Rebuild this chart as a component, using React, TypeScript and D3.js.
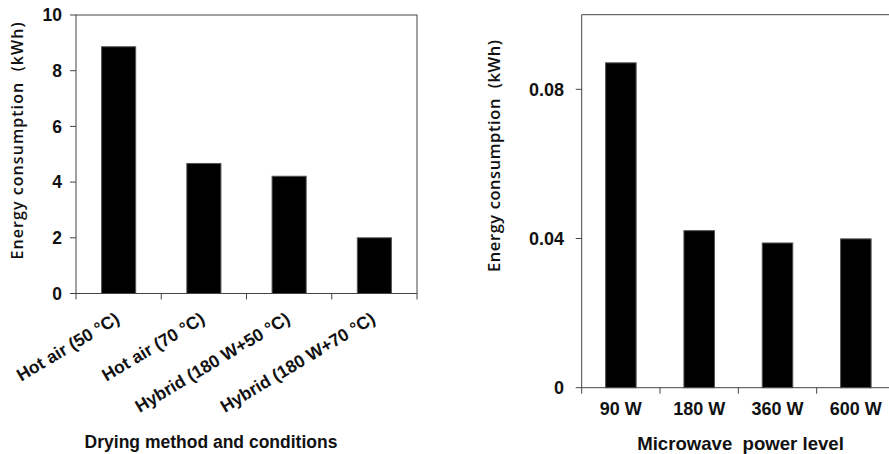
import React from "react";
import * as d3 from "d3";

const leftCategories = ["Hot air (50 °C)", "Hot air (70 °C)", "Hybrid (180 W+50 °C)", "Hybrid (180 W+70 °C)"];
const leftValues = [8.86, 4.67, 4.21, 2.0];
const leftTicks = [0, 2, 4, 6, 8, 10];

const rightCategories = ["90 W", "180 W", "360 W", "600 W"];
const rightValues = [0.0871, 0.0421, 0.0388, 0.0399];
const rightTicks = [0, 0.04, 0.08];

const FONT = "'Liberation Sans', Arial, Helvetica, sans-serif";
const TITLE_FONT = "'Open Sans', 'Noto Sans', sans-serif";
const AXIS = "#444";

export default function App() {
  // Left panel
  const L = { x0: 76, x1: 417, top: 15, bottom: 293.5 };
  const lx = d3.scaleBand<string>().domain(leftCategories).range([L.x0, L.x1]).padding(0);
  const ly = d3.scaleLinear().domain([0, 10]).range([L.bottom, L.top]);
  const lbw = lx.bandwidth() * 0.4;

  // Right panel
  const R = { x0: 581.7, x1: 895, top: 14.7, bottom: 387.7 };
  const rx = d3.scaleBand<string>().domain(rightCategories).range([R.x0, R.x1]).padding(0);
  const ry = d3.scaleLinear().domain([0, 0.1]).range([R.bottom, R.top]);
  const rbw = rx.bandwidth() * 0.39;

  const lBoundaries = leftCategories.map((c) => lx(c)!).concat([L.x1]);
  const rBoundaries = rightCategories.map((c) => rx(c)!);

  return (
    <svg width={889} height={454} style={{ position: "absolute", left: 0, top: 0, background: "#fff" }} fontFamily={FONT}>
      <rect x={0} y={0} width={889} height={454} fill="#fff" />
      {/* LEFT */}
      <g>
        {leftCategories.map((c, i) => (
          <rect key={c} x={lx(c)! + (lx.bandwidth() - lbw) / 2} y={ly(leftValues[i])} width={lbw}
            height={ly(0) - ly(leftValues[i])} fill="#000" stroke="#555" strokeWidth={1} />
        ))}
        <rect x={L.x0} y={L.top} width={L.x1 - L.x0} height={L.bottom - L.top} fill="none" stroke={AXIS} strokeWidth={1} />
        {leftTicks.map((t) => (
          <g key={t}>
            <line x1={L.x0 - 6} x2={L.x0} y1={ly(t)} y2={ly(t)} stroke={AXIS} />
            <text x={62} y={ly(t)} dy="0.36em" textAnchor="end" fontSize={17.5} fontWeight="bold" fill="#111">{t}</text>
          </g>
        ))}
        {lBoundaries.map((b, i) => (
          <line key={i} x1={b} x2={b} y1={L.bottom} y2={L.bottom + 6} stroke={AXIS} />
        ))}
        {leftCategories.map((c) => {
          const cx = lx(c)! + lx.bandwidth() / 2 + 2;
          return (
            <text key={c} transform={`translate(${cx},322) rotate(-31)`} textAnchor="end" fontSize={17.5}
              fontWeight="bold" fill="#111">{c}</text>
          );
        })}
        <text x={211} y={448} textAnchor="middle" fontSize={17.5} fontWeight="bold" fill="#111">Drying method and conditions</text>
        <text transform={`translate(23,141) rotate(-90)`} textAnchor="middle" fontSize={16} fontWeight={600}
          fontFamily={TITLE_FONT} fill="#111" textLength={237} lengthAdjust="spacing"
          style={{ whiteSpace: "pre" }}>{"Energy consumption  (kWh)"}</text>
      </g>
      {/* RIGHT */}
      <g>
        {rightCategories.map((c, i) => (
          <rect key={c} x={rx(c)! + (rx.bandwidth() - rbw) / 2} y={ry(rightValues[i])} width={rbw}
            height={ry(0) - ry(rightValues[i])} fill="#000" stroke="#555" strokeWidth={1} />
        ))}
        <line x1={R.x0} x2={R.x0} y1={R.top} y2={R.bottom} stroke={AXIS} />
        <line x1={R.x0} x2={R.x1} y1={R.top} y2={R.top} stroke={AXIS} />
        <line x1={R.x0} x2={R.x1} y1={R.bottom} y2={R.bottom} stroke={AXIS} />
        {rightTicks.map((t) => (
          <g key={t}>
            <line x1={R.x0 - 6} x2={R.x0} y1={ry(t)} y2={ry(t)} stroke={AXIS} />
            <text x={564} y={ry(t)} dy="0.36em" textAnchor="end" fontSize={18} fontWeight="bold" fill="#111">{t === 0 ? "0" : String(t)}</text>
          </g>
        ))}
        {rBoundaries.map((b, i) => (
          <line key={i} x1={b} x2={b} y1={R.bottom} y2={R.bottom + 6} stroke={AXIS} />
        ))}
        {rightCategories.map((c) => (
          <text key={c} x={rx(c)! + rx.bandwidth() / 2} y={415} textAnchor="middle" fontSize={18} fontWeight="bold" fill="#111">{c}</text>
        ))}
        <text x={740.5} y={450} textAnchor="middle" fontSize={18.6} fontWeight="bold" fill="#111" style={{ whiteSpace: "pre" }}>{"Microwave  power level"}</text>
        <text transform={`translate(500,156) rotate(-90)`} textAnchor="middle" fontSize={16.5} fontWeight={600}
          fontFamily={TITLE_FONT} fill="#111" textLength={232} lengthAdjust="spacing"
          style={{ whiteSpace: "pre" }}>{"Energy consumption  (kWh)"}</text>
      </g>
    </svg>
  );
}
